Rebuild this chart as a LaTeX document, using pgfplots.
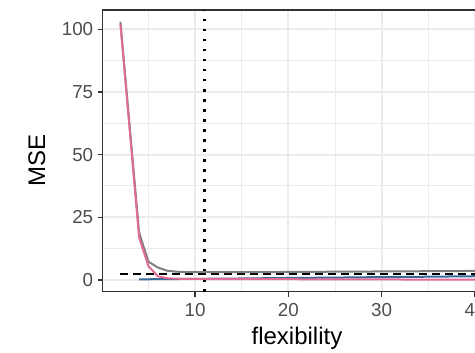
\documentclass[border=0pt]{standalone}
\usepackage{fontspec}
\setmainfont{Liberation Sans}
\usepackage{pgfplots}
\pgfplotsset{compat=1.18}
\definecolor{gridc}{HTML}{EBEBEB}
\definecolor{borderc}{HTML}{333333}
\definecolor{tickc}{HTML}{4D4D4D}
\definecolor{totc}{HTML}{808080}
\definecolor{biasc}{HTML}{E06C95}
\definecolor{varc}{HTML}{3C6A96}
\begin{document}
\begin{tikzpicture}[x=1bp,y=1bp]
\begin{axis}[
  at={(102.7bp,60.5bp)}, anchor=south west,
  scale only axis, width=390bp, height=281.5bp,
  xmin=0.1, xmax=41.9, ymin=-4.6, ymax=107.7,
  xtick={10,20,30,40}, ytick={0,25,50,75,100},
  minor xtick={5,15,25,35}, minor ytick={12.5,37.5,62.5,87.5},
  grid=both,
  major grid style={gridc, line width=2bp},
  minor grid style={gridc, line width=1bp},
  tick pos=left, tick align=outside,
  major tick length=5bp, minor tick length=0pt,
  tick style={borderc, line width=1.3bp},
  axis line style={borderc, line width=1.4bp},
  /pgf/number format/assume math mode=true,
  ticklabel style={font=\fontsize{18.8bp}{20bp}\selectfont, text=tickc},
  xticklabel style={yshift=-3bp},
  yticklabel style={xshift=-1bp},
  xlabel={flexibility}, ylabel={MSE},
  label style={font=\fontsize{24bp}{26bp}\selectfont, text=black},
  xlabel style={at={(rel axis cs:0.498,-0.19)}, anchor=base},
  ylabel style={at={(rel axis cs:-0.1685,0.467)}, anchor=center, rotate=0},
  clip=true,
]
% vertical dotted line at chosen flexibility
\addplot[black, line width=2.2bp, dash pattern=on 2.2bp off 7.8bp] coordinates {(11,-4.6) (11,107.7)};
% irreducible error
\addplot[black, line width=2bp, dash pattern=on 8bp off 5bp] coordinates {(2,2.4) (40,2.4)};
% total MSE
\addplot[totc, line width=2bp] coordinates {
(2,103) (4,19) (5,7.3) (6,5.0) (7,3.7) (8,3.3) (9,3.15) (10,3.1) (15,3.1) (20,3.2) (25,3.3) (30,3.4) (35,3.5) (40,3.6)};
% variance
\addplot[varc, line width=2bp] coordinates {
(4,0.25) (10,0.45) (15,0.6) (20,0.8) (25,0.95) (30,1.15) (35,1.3) (40,1.5)};
% squared bias
\addplot[biasc, line width=2bp] coordinates {
(2,102) (4,17) (5,5.5) (6,1.5) (7,0.7) (8,0.5) (10,0.4) (15,0.35) (20,0.3) (30,0.2) (40,0.15)};
\end{axis}
\pgfresetboundingbox
\path[use as bounding box] (0,0) rectangle (475,352);
\end{tikzpicture}
\end{document}
